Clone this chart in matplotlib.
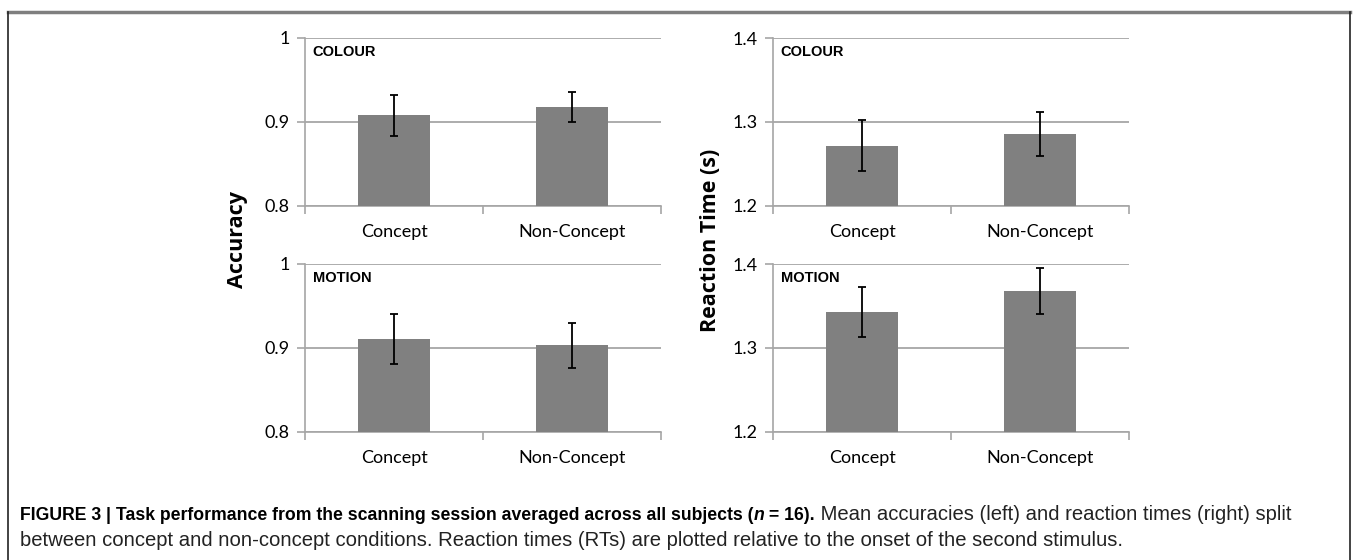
import numpy as np
import matplotlib.pyplot as plt
from matplotlib.lines import Line2D

categories = ['Concept', 'Non-Concept']

# accuracy (left column)
acc_colour = [0.908, 0.918]
acc_colour_err = [0.0245, 0.018]
acc_motion = [0.911, 0.903]
acc_motion_err = [0.030, 0.027]

# reaction times in s (right column)
rt_colour = [1.272, 1.286]
rt_colour_err = [0.030, 0.026]
rt_motion = [1.343, 1.368]
rt_motion_err = [0.030, 0.027]

acc_ticks = [0.8, 0.9, 1.0]
acc_ticklabels = ['0.8', '0.9', '1']
rt_ticks = [1.2, 1.3, 1.4]
rt_ticklabels = ['1.2', '1.3', '1.4']

W, H = 1355, 560
fig = plt.figure(figsize=(W / 100, H / 100), dpi=100)
fig.patch.set_facecolor('white')

tick_font = 'Lato'
gridc = '#a6a6a6'


def panel(rect, vals, errs, ticks, ticklabels, label):
    ax = fig.add_axes(rect)
    x = np.arange(len(categories))
    ax.bar(x, vals, width=0.4, color='#808080', zorder=3)
    ax.errorbar(x, vals, yerr=errs, fmt='none', ecolor='black',
                elinewidth=1.3, capsize=3, capthick=1.3, zorder=4)
    ax.set_xlim(-0.5, 1.5)
    ax.set_ylim(ticks[0], ticks[-1])
    ax.set_yticks(ticks)
    ax.set_yticklabels(ticklabels, fontsize=13, family=tick_font)
    ax.set_xticks([-0.5, 0.5, 1.5], minor=False)
    ax.set_xticklabels([])
    ax.set_xticks(x, minor=True)
    ax.set_xticklabels(categories, minor=True, fontsize=13, family=tick_font)
    ax.tick_params(axis='x', which='minor', length=0, pad=13)
    ax.tick_params(axis='x', which='major', length=6, color=gridc, width=1.2)
    ax.tick_params(axis='y', length=6, color=gridc, width=1.2, pad=5)
    ax.yaxis.grid(True, color=gridc, linewidth=1.3, zorder=0)
    for s in ['top', 'right']:
        ax.spines[s].set_visible(False)
    for s in ['left', 'bottom']:
        ax.spines[s].set_color(gridc)
        ax.spines[s].set_linewidth(1.2)
    ax.text(0.022, 0.915, label, transform=ax.transAxes, fontsize=10.5,
            fontweight='bold', family='Liberation Sans', va='center', ha='left')
    return ax


lx, rx = 305 / W, 773 / W
pw = 356 / W
ph = 168 / H
top_y = (H - 206) / H
bot_y = (H - 432) / H

panel([lx, top_y, pw, ph], acc_colour, acc_colour_err, acc_ticks, acc_ticklabels, 'COLOUR')
panel([lx, bot_y, pw, ph], acc_motion, acc_motion_err, acc_ticks, acc_ticklabels, 'MOTION')
panel([rx, top_y, pw, ph], rt_colour, rt_colour_err, rt_ticks, rt_ticklabels, 'COLOUR')
panel([rx, bot_y, pw, ph], rt_motion, rt_motion_err, rt_ticks, rt_ticklabels, 'MOTION')

fig.text(237 / W, (H - 240) / H, 'Accuracy', rotation=90, fontsize=15.5,
         fontweight='bold', family='Open Sans', ha='center', va='center')
fig.text(710 / W, (H - 240) / H, 'Reaction Time (s)', rotation=90, fontsize=15.5,
         fontweight='bold', family='Open Sans', ha='center', va='center')

# outer frame
fig.add_artist(Line2D([8 / W, 1350 / W], [1 - 12 / H, 1 - 12 / H], color='#7f7f7f', lw=2.5))
fig.add_artist(Line2D([8 / W, 8 / W], [0, 1 - 12 / H], color='#222222', lw=1.2))
fig.add_artist(Line2D([1350 / W, 1350 / W], [0, 1 - 12 / H], color='#222222', lw=1.2))

# caption: bold part is condensed in the original, so smaller size here
cap_rest = ' Mean accuracies (left) and reaction times (right) split'
cap_line2 = 'between concept and non-concept conditions. Reaction times (RTs) are plotted relative to the onset of the second stimulus.'
bfs = 12.7
rfs = 14.6
y1 = (H - 515) / H
y2 = (H - 541) / H
r = fig.canvas.get_renderer()
t1 = fig.text(20 / W, y1, 'FIGURE 3 | Task performance from the scanning session averaged across all subjects (',
              fontsize=bfs, fontweight='bold', family='Liberation Sans', va='baseline')
bb = t1.get_window_extent(r)
yb = (H - 520) / H
t1.set_y(yb)
t2 = fig.text(bb.x1 / W, yb, 'n', fontsize=bfs, fontweight='bold', style='italic',
              family='Liberation Sans', va='baseline')
bb = t2.get_window_extent(r)
t3 = fig.text(bb.x1 / W, yb, ' = 16).', fontsize=bfs, fontweight='bold',
              family='Liberation Sans', va='baseline')
bb = t3.get_window_extent(r)
fig.text(bb.x1 / W, yb, cap_rest, fontsize=rfs, family='Liberation Sans',
         va='baseline', color='#222222')
fig.text(20 / W, y2, cap_line2, fontsize=rfs, family='Liberation Sans',
         va='center', color='#222222')

fig.savefig('out.png', dpi=100)
